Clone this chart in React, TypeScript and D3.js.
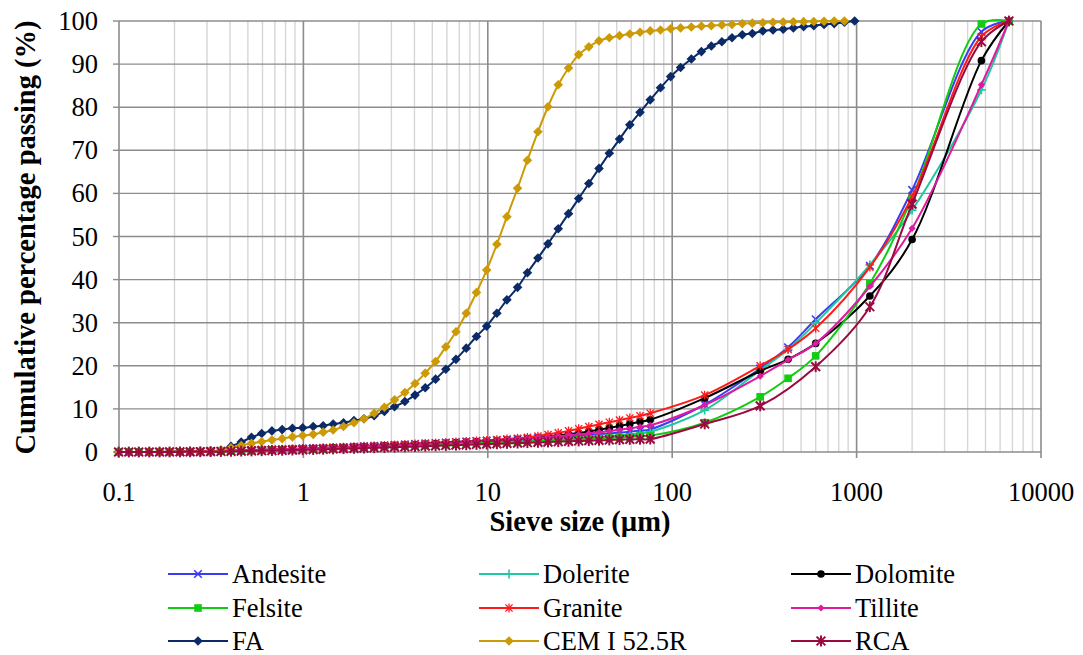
import React from "react";
import * as d3 from "d3";

// ---------- DATA ----------
const laserSizes = [
  0.0995, 0.113, 0.128, 0.146, 0.166, 0.188, 0.214, 0.243, 0.276, 0.314,
  0.357, 0.405, 0.46, 0.523, 0.594, 0.675, 0.767, 0.872, 0.991, 1.13,
  1.28, 1.45, 1.65, 1.88, 2.13, 2.42, 2.75, 3.12, 3.55, 4.03,
  4.58, 5.21, 5.92, 6.72, 7.64, 8.68, 9.86, 11.2, 12.7, 14.5,
  16.4, 18.7, 21.2, 24.1, 27.4, 31.1, 35.3, 40.1, 45.6, 51.8,
  58.9, 66.9, 76.0, 86.4, 98.1, 111, 127, 144, 163, 186,
  211, 240, 272, 310, 352, 400, 454, 516, 586, 666,
  756, 859, 976,
];
const sieveSizes = [150, 300, 425, 600, 1180, 2000, 4750, 6700];
const rcaSieveSizes = [150, 300, 600, 1180, 2000, 4750, 6700];

const andesiteFine = [
  0, 0, 0, 0.01, 0.03, 0.05, 0.08, 0.12, 0.16, 0.21,
  0.27, 0.33, 0.39, 0.46, 0.53, 0.6, 0.67, 0.74, 0.82, 0.9,
  0.98, 1.07, 1.16, 1.25, 1.35, 1.45, 1.55, 1.65, 1.76, 1.87,
  1.98, 2.09, 2.2, 2.31, 2.42, 2.53, 2.64, 2.76, 2.88, 3.0,
  3.12, 3.24, 3.36, 3.5, 3.64, 3.79, 3.95, 4.12, 4.3, 4.5,
  4.72, 4.97, 5.25,
];
const andesiteSieve = [11.0, 19.4, 24.3, 30.8, 43.2, 60.8, 97.5, 100];

const doleriteFine = [
  0, 0, 0, 0, 0, 0.01, 0.03, 0.05, 0.08, 0.11,
  0.15, 0.19, 0.24, 0.29, 0.35, 0.41, 0.47, 0.54, 0.61, 0.68,
  0.75, 0.83, 0.91, 0.99, 1.07, 1.15, 1.24, 1.33, 1.42, 1.51,
  1.6, 1.69, 1.78, 1.87, 1.96, 2.05, 2.14, 2.24, 2.34, 2.45,
  2.56, 2.67, 2.79, 2.92, 3.05, 3.19, 3.34, 3.5, 3.67, 3.86,
  4.07, 4.35, 4.7,
];
const doleriteSieve = [9.7, 19.0, 23.8, 29.9, 43.4, 56.1, 84.0, 100];

const dolomiteFine = [
  0, 0, 0, 0, 0.01, 0.03, 0.05, 0.08, 0.11, 0.15,
  0.2, 0.25, 0.3, 0.36, 0.42, 0.49, 0.56, 0.63, 0.71, 0.79,
  0.87, 0.96, 1.05, 1.14, 1.23, 1.33, 1.43, 1.53, 1.63, 1.74,
  1.85, 1.96, 2.07, 2.19, 2.31, 2.4, 2.5, 2.63, 2.78, 2.95,
  3.12, 3.33, 3.56, 3.82, 4.1, 4.42, 4.78, 5.18, 5.6, 6.05,
  6.5, 7.0, 7.5,
];
const dolomiteSieve = [12.5, 18.8, 21.5, 25.2, 36.2, 49.3, 90.8, 100];

const felsiteFine = [
  0, 0, 0, 0, 0.01, 0.02, 0.04, 0.06, 0.09, 0.12,
  0.16, 0.2, 0.25, 0.3, 0.35, 0.41, 0.47, 0.53, 0.6, 0.67,
  0.74, 0.81, 0.89, 0.97, 1.05, 1.13, 1.21, 1.29, 1.38, 1.47,
  1.56, 1.65, 1.74, 1.83, 1.92, 2.01, 2.1, 2.19, 2.28, 2.37,
  2.46, 2.55, 2.64, 2.73, 2.83, 2.93, 3.03, 3.14, 3.25, 3.37,
  3.5, 3.64, 3.8,
];
const felsiteSieve = [6.8, 12.8, 17.1, 22.3, 39.1, 58.9, 99.3, 100];

const graniteFine = [
  0, 0, 0, 0, 0.02, 0.04, 0.07, 0.1, 0.14, 0.18,
  0.23, 0.28, 0.34, 0.4, 0.47, 0.54, 0.61, 0.69, 0.77, 0.86,
  0.95, 1.04, 1.13, 1.23, 1.33, 1.43, 1.53, 1.64, 1.75, 1.86,
  1.97, 2.08, 2.2, 2.32, 2.45, 2.58, 2.72, 2.87, 3.03, 3.2,
  3.4, 3.7, 4.05, 4.45, 4.9, 5.4, 5.9, 6.4, 6.9, 7.4,
  7.9, 8.4, 9.0,
];
const graniteSieve = [13.2, 20.0, 23.8, 28.7, 42.9, 59.2, 96.4, 100];

const tilliteFine = [
  0, 0, 0, 0.01, 0.02, 0.04, 0.07, 0.1, 0.14, 0.18,
  0.23, 0.28, 0.34, 0.4, 0.46, 0.53, 0.6, 0.67, 0.75, 0.83,
  0.91, 1.0, 1.09, 1.18, 1.27, 1.37, 1.47, 1.57, 1.67, 1.78,
  1.89, 2.0, 2.11, 2.22, 2.34, 2.46, 2.58, 2.71, 2.84, 2.98,
  3.13, 3.29, 3.46, 3.65, 3.85, 4.07, 4.31, 4.57, 4.85, 5.15,
  5.48, 5.83, 6.2,
];
const tilliteSieve = [10.9, 17.6, 21.4, 25.2, 38.4, 51.9, 85.2, 100];

const faValues = [
  0, 0, 0, 0, 0, 0, 0, 0, 0, 0.05,
  0.3, 1.3, 2.3, 3.4, 4.3, 4.9, 5.2, 5.5, 5.6, 5.9,
  6.1, 6.5, 6.8, 7.3, 7.7, 8.4, 9.4, 10.5, 11.7, 13.2,
  14.9, 16.9, 19.2, 21.5, 24.1, 26.8, 29.2, 32.2, 35.3, 38.2,
  41.6, 45.0, 48.3, 51.8, 55.3, 58.8, 62.3, 65.8, 69.3, 72.6,
  75.9, 78.8, 81.7, 84.5, 87.1, 89.2, 91.2, 92.9, 94.2, 95.2,
  96.1, 96.8, 97.1, 97.7, 97.9, 98.1, 98.4, 98.7, 98.9, 99.2,
  99.4, 99.7, 100,
];

const cemValues = [
  0, 0, 0, 0, 0, 0, 0, 0, 0, 0.1,
  0.5, 1.0, 1.5, 2.0, 2.4, 2.8, 3.1, 3.5, 3.8, 4.1,
  4.6, 5.1, 5.9, 6.8, 7.7, 9.0, 10.4, 12.1, 13.8, 15.9,
  18.3, 21.0, 24.4, 27.9, 32.2, 37.0, 42.2, 48.2, 54.6, 61.2,
  67.7, 74.3, 80.1, 85.2, 89.1, 92.2, 94.0, 95.4, 96.1, 96.6,
  97.0, 97.4, 97.7, 97.9, 98.2, 98.4, 98.6, 98.8, 98.9, 99.1,
  99.2, 99.4, 99.5, 99.6, 99.7, 99.75, 99.8, 99.85, 99.9, 99.95,
  100, 100,
];

const rcaFine = [
  0, 0, 0, 0, 0, 0.01, 0.02, 0.04, 0.06, 0.09,
  0.12, 0.16, 0.2, 0.24, 0.29, 0.34, 0.39, 0.45, 0.51, 0.57,
  0.63, 0.7, 0.77, 0.84, 0.91, 0.98, 1.05, 1.12, 1.19, 1.27,
  1.35, 1.43, 1.51, 1.59, 1.67, 1.75, 1.83, 1.91, 1.99, 2.07,
  2.15, 2.23, 2.31, 2.39, 2.47, 2.55, 2.63, 2.71, 2.79, 2.86,
  2.92, 2.96, 3.0,
];
const rcaSieve = [6.5, 10.7, 19.8, 33.7, 57.5, 95.2, 100];

const xTickLabels = ["0.1", "1", "10", "100", "1000", "10000"];
const yTickValues = [0, 10, 20, 30, 40, 50, 60, 70, 80, 90, 100];

// ---------- BUILD SERIES ----------
type Pt = [number, number];
const zip = (xs: number[], ys: number[]): Pt[] => ys.map((y, i) => [xs[i], y]);
const aggFine = laserSizes.slice(0, 53);

type Series = { name: string; color: string; marker: string; pts: Pt[] };
const seriesList: Series[] = [
  { name: "Andesite", color: "#3c3cf5", marker: "x", pts: [...zip(aggFine, andesiteFine), ...zip(sieveSizes, andesiteSieve)] },
  { name: "Dolerite", color: "#1fc8a0", marker: "plus", pts: [...zip(aggFine, doleriteFine), ...zip(sieveSizes, doleriteSieve)] },
  { name: "Dolomite", color: "#000000", marker: "circle", pts: [...zip(aggFine, dolomiteFine), ...zip(sieveSizes, dolomiteSieve)] },
  { name: "Felsite", color: "#12cc12", marker: "square", pts: [...zip(aggFine, felsiteFine), ...zip(sieveSizes, felsiteSieve)] },
  { name: "Granite", color: "#ff1a1a", marker: "asterisk", pts: [...zip(aggFine, graniteFine), ...zip(sieveSizes, graniteSieve)] },
  { name: "Tillite", color: "#dd1aa0", marker: "smalldiamond", pts: [...zip(aggFine, tilliteFine), ...zip(sieveSizes, tilliteSieve)] },
  { name: "FA", color: "#0b2a66", marker: "diamond", pts: zip(laserSizes, faValues) },
  { name: "CEM I 52.5R", color: "#cc9a06", marker: "diamond", pts: zip(laserSizes, cemValues) },
  { name: "RCA", color: "#9a0a40", marker: "star", pts: [...zip(aggFine, rcaFine), ...zip(rcaSieveSizes, rcaSieve)] },
];

// ---------- LAYOUT ----------
const W = 1083, H = 655;
const L = 119, R = 1041, T = 21, B = 452;
const FONT = "Liberation Serif";
const LABEL_SIZE = 26.5;
const TITLE_SIZE = 28.5;

const x = d3.scaleLog().domain([0.1, 10000]).range([L, R]);
const y = d3.scaleLinear().domain([0, 100]).range([B, T]);

function Txt(props: { x: number; y: number; anchor?: string; bold?: boolean; size?: number; children: React.ReactNode }) {
  const { x: tx, y: ty, anchor = "start", bold = false, size = LABEL_SIZE, children } = props;
  return (
    <text
      x={tx}
      y={ty}
      textAnchor={anchor}
      fontSize={size}
      fontWeight={bold ? "bold" : "normal"}
      fill="#000"
      style={{ fontFamily: FONT }}
    >
      {children}
    </text>
  );
}

function Marker({ type, cx, cy, color }: { type: string; cx: number; cy: number; color: string }) {
  switch (type) {
    case "x": {
      const s = 3.8;
      return (
        <g stroke={color} strokeWidth={1.6}>
          <line x1={cx - s} y1={cy - s} x2={cx + s} y2={cy + s} />
          <line x1={cx - s} y1={cy + s} x2={cx + s} y2={cy - s} />
        </g>
      );
    }
    case "plus": {
      const s = 4.4;
      return (
        <g stroke={color} strokeWidth={1.6}>
          <line x1={cx - s} y1={cy} x2={cx + s} y2={cy} />
          <line x1={cx} y1={cy - s} x2={cx} y2={cy + s} />
        </g>
      );
    }
    case "circle":
      return <circle cx={cx} cy={cy} r={3.8} fill={color} />;
    case "square":
      return <rect x={cx - 3.8} y={cy - 3.8} width={7.6} height={7.6} fill={color} />;
    case "asterisk": {
      const s = 3.6;
      return (
        <g stroke={color} strokeWidth={1.3}>
          <line x1={cx - s} y1={cy - s} x2={cx + s} y2={cy + s} />
          <line x1={cx - s} y1={cy + s} x2={cx + s} y2={cy - s} />
          <line x1={cx} y1={cy - s - 0.8} x2={cx} y2={cy + s + 0.8} />
        </g>
      );
    }
    case "smalldiamond": {
      const s = 3.6;
      return <path d={`M${cx},${cy - s}L${cx + s},${cy}L${cx},${cy + s}L${cx - s},${cy}Z`} fill={color} />;
    }
    case "diamond": {
      const s = 4.8;
      return <path d={`M${cx},${cy - s}L${cx + s},${cy}L${cx},${cy + s}L${cx - s},${cy}Z`} fill={color} />;
    }
    case "star": {
      const s = 4.4;
      return (
        <g stroke={color} strokeWidth={2}>
          <line x1={cx - s} y1={cy - s} x2={cx + s} y2={cy + s} />
          <line x1={cx - s} y1={cy + s} x2={cx + s} y2={cy - s} />
          <line x1={cx} y1={cy - s - 1} x2={cx} y2={cy + s + 1} />
        </g>
      );
    }
  }
  return null;
}

export default function App() {
  const ticks = x.ticks();
  const line = d3
    .line<Pt>()
    .x((d) => x(d[0]))
    .y((d) => y(d[1]))
    .curve(d3.curveCatmullRom.alpha(0.5));

  const isMajor = (v: number) => Math.abs(Math.log10(v) - Math.round(Math.log10(v))) < 1e-6;
  const majors = ticks.filter((t) => isMajor(t));

  const legendCols = [168, 479, 791];
  const legendRows = [574, 608, 641];

  return (
    <svg width={W} height={H} style={{ position: "absolute", left: 0, top: 0, background: "#fff" }}>
      <rect x={0} y={0} width={W} height={H} fill="#fff" />
      {/* minor vertical gridlines */}
      {ticks.filter((t) => !isMajor(t)).map((t, i) => (
        <line key={"mn" + i} x1={x(t)} x2={x(t)} y1={T} y2={B} stroke="#d6d6d6" strokeWidth={1.4} />
      ))}
      {/* horizontal gridlines */}
      {yTickValues.map((v) => (
        <line key={"h" + v} x1={L} x2={R} y1={y(v)} y2={y(v)} stroke="#8c8c8c" strokeWidth={1.4} />
      ))}
      {/* major vertical gridlines */}
      {majors.map((t, i) => (
        <line key={"mj" + i} x1={x(t)} x2={x(t)} y1={T} y2={B} stroke="#8c8c8c" strokeWidth={1.6} />
      ))}
      {/* axis ticks */}
      {yTickValues.map((v) => (
        <line key={"yt" + v} x1={L - 6} x2={L} y1={y(v)} y2={y(v)} stroke="#8c8c8c" strokeWidth={1.4} />
      ))}
      {majors.map((t, i) => (
        <line key={"xt" + i} x1={x(t)} x2={x(t)} y1={B} y2={B + 6} stroke="#8c8c8c" strokeWidth={1.6} />
      ))}

      {/* series */}
      {seriesList.map((s) => (
        <g key={s.name}>
          <path d={line(s.pts) || ""} fill="none" stroke={s.color} strokeWidth={2} />
          {s.pts.map((p, i) => (
            <Marker key={i} type={s.marker} cx={x(p[0])} cy={y(p[1])} color={s.color} />
          ))}
        </g>
      ))}

      {/* tick labels */}
      {yTickValues.map((v) => (
        <Txt key={"yl" + v} x={L - 21} y={y(v) + 9} anchor="end">
          {v}
        </Txt>
      ))}
      {majors.map((t, i) => (
        <Txt key={"xl" + i} x={x(t)} y={501} anchor="middle">
          {xTickLabels[i]}
        </Txt>
      ))}

      {/* axis titles */}
      <Txt x={580} y={531} anchor="middle" bold size={TITLE_SIZE}>
        Sieve size (µm)
      </Txt>
      <text
        transform={`translate(35, ${(T + B) / 2 + 1}) rotate(-90)`}
        textAnchor="middle"
        fontSize={TITLE_SIZE}
        fontWeight="bold"
        fill="#000"
        style={{ fontFamily: FONT }}
      >
        Cumulative percentage passing (%)
      </text>

      {/* legend */}
      {seriesList.map((s, i) => {
        const cx = legendCols[i % 3];
        const cy = legendRows[Math.floor(i / 3)];
        return (
          <g key={"lg" + s.name}>
            <line x1={cx} x2={cx + 60} y1={cy} y2={cy} stroke={s.color} strokeWidth={2} />
            <Marker type={s.marker} cx={cx + 30} cy={cy} color={s.color} />
            <Txt x={cx + 64} y={cy + 9}>
              {s.name}
            </Txt>
          </g>
        );
      })}
    </svg>
  );
}
